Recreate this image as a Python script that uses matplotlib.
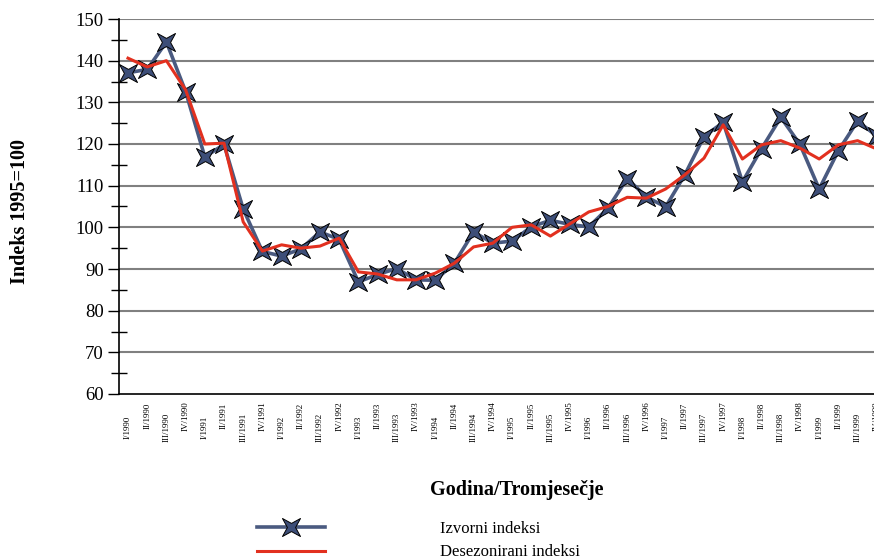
import numpy as np
import matplotlib
matplotlib.use("Agg")
import matplotlib.pyplot as plt
from matplotlib.path import Path
from matplotlib.lines import Line2D


# -----------------------------
# Data
# -----------------------------
QUARTERS = ["I", "II", "III", "IV"]
YEARS = list(range(1990, 2000))
PERIODS = [f"{q}/{y}" for y in YEARS for q in QUARTERS]

IZVORNI = [
    137.1, 137.9, 144.5, 132.6,
    116.9, 119.9, 104.4, 94.2,
    93.1, 94.8, 98.9, 97.1,
    86.9, 88.7, 90.1, 87.4,
    87.3, 91.4, 98.9, 96.2,
    96.7, 100.1, 101.7, 100.7,
    100.1, 104.6, 111.7, 107.3,
    104.9, 112.6, 121.8, 125.2,
    110.9, 118.9, 126.4, 119.9,
    109.2, 118.4, 125.5, 121.9,
]

DESEZONIRANI = [
    140.6, 138.5, 140.0, 133.0,
    120.0, 120.2, 101.3, 94.3,
    95.8, 95.0, 95.5, 97.4,
    89.3, 88.8, 87.4, 87.4,
    89.0, 91.4, 95.3, 96.2,
    100.0, 100.6, 97.9, 100.8,
    103.7, 105.0, 107.2, 107.0,
    109.2, 112.6, 116.6, 124.6,
    116.4, 119.8, 120.8, 119.0,
    116.4, 119.8, 120.8, 118.8,
]

# -----------------------------
# Style
# -----------------------------
BLUE_LINE = "#4A5A80"
STAR_FILL = "#3D4E78"
RED_LINE = "#E2301F"
GRID_COLOR = "#808080"
FONT = "Liberation Serif"

plt.rcParams["font.family"] = [FONT, "DejaVu Serif"]

# four-pointed star with points on the diagonals
_outer = 1.0
_inner = 0.32
_verts = []
for k in range(8):
    ang = np.deg2rad(45 + k * 45)
    r = _outer if k % 2 == 0 else _inner
    _verts.append((r * np.cos(ang), r * np.sin(ang)))
_verts.append(_verts[0])
STAR = Path(_verts, [Path.MOVETO] + [Path.LINETO] * 7 + [Path.CLOSEPOLY])

x = np.arange(len(PERIODS))

fig = plt.figure(figsize=(8.74, 5.6), dpi=100)
W, H = 874, 560
ax_left, ax_right, ax_bottom, ax_top = 119, 884, 394, 19
ax = fig.add_axes([ax_left / W, 1 - ax_bottom / H,
                   (ax_right - ax_left) / W, (ax_bottom - ax_top) / H])

ax.plot(x, IZVORNI, color=BLUE_LINE, lw=2.6, marker=STAR, markersize=13,
        markerfacecolor=STAR_FILL, markeredgecolor="black", markeredgewidth=0.7,
        zorder=3)
ax.plot(x, DESEZONIRANI, color=RED_LINE, lw=2.2, zorder=4)

spacing = 19.2
ax.set_xlim(-(128 - ax_left) / spacing, (ax_right - 128) / spacing)
ax.set_ylim(60, 150)

ax.set_yticks(np.arange(60, 151, 10))
ax.set_yticks(np.arange(65, 150, 10), minor=True)
ax.tick_params(axis="y", which="major", direction="out", length=8, width=1,
               labelsize=13.5, pad=3, colors="black")
ax.tick_params(axis="y", which="minor", direction="inout", length=11, width=1)
for v in range(70, 151, 10):
    ax.axhline(v, color=GRID_COLOR, lw=1.5, zorder=1)

ax.set_xticks([])
for i, lab in enumerate(PERIODS):
    yc = -0.088 if i % 2 == 0 else -0.059
    ax.text(i, yc, lab, rotation=90, ha="center", va="center", fontsize=6.5,
            transform=ax.get_xaxis_transform(), clip_on=False)

for side in ["top", "right"]:
    ax.spines[side].set_visible(False)
ax.spines["left"].set_linewidth(1.2)
ax.spines["bottom"].set_linewidth(1.2)

fig.text(20 / W, 1 - 212 / H, "Indeks 1995=100", rotation=90, ha="center",
         va="center", fontsize=14.5, fontweight="bold")
fig.text(517 / W, 1 - 490 / H, "Godina/Tromjesečje", ha="center", va="center",
         fontsize=14.5, fontweight="bold")

handles = [
    Line2D([], [], color=BLUE_LINE, lw=2.6, marker=STAR, markersize=13,
           markerfacecolor=STAR_FILL, markeredgecolor="black",
           markeredgewidth=0.7),
    Line2D([], [], color=RED_LINE, lw=2.2),
]
fig.legend(handles, ["Izvorni indeksi", "Desezonirani indeksi"],
           loc="upper left", bbox_to_anchor=(257 / W, 1 - 521 / H),
           frameon=False, fontsize=12, handlelength=4.1, handletextpad=6.9,
           labelspacing=0.45, borderpad=0, borderaxespad=0, numpoints=1)

fig.savefig("out.png", dpi=100)
